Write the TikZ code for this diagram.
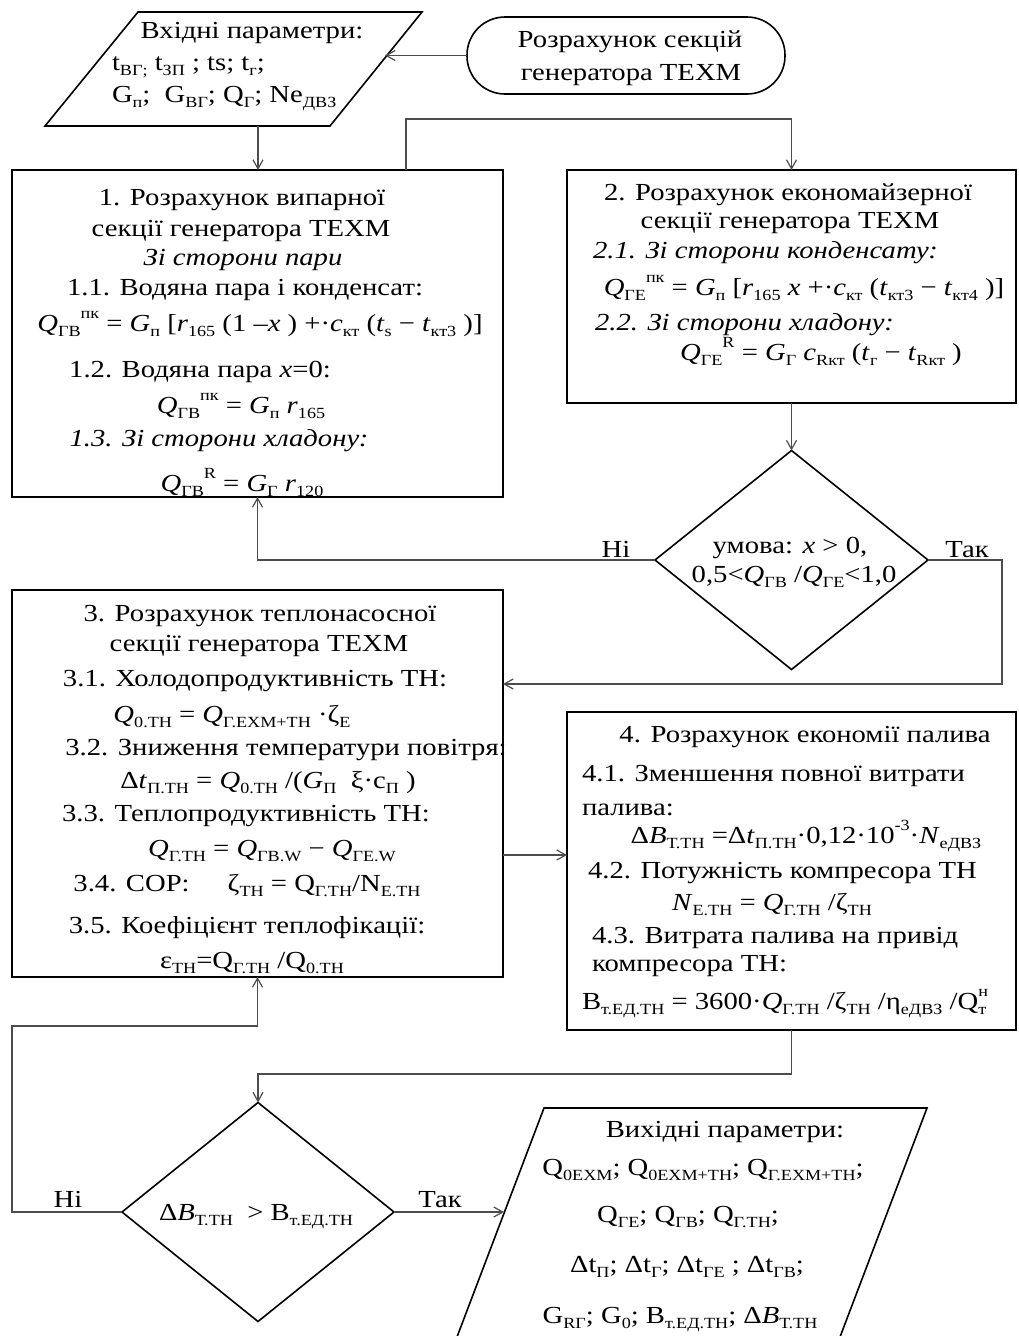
\documentclass[tikz,border=0pt]{standalone}
\usepackage{fontspec}
\setmainfont{Liberation Serif}[FakeStretch=1.17]
\usetikzlibrary{shapes.geometric,arrows.meta}
\newcommand\mysub[1]{\raisebox{-0.22em}{\fontsize{15.5}{16}\selectfont #1}}
\newcommand\mysup[1]{\raisebox{0.5em}{\fontsize{15.5}{16}\selectfont #1}}
\begin{document}
\begin{tikzpicture}[x=1pt,y=-1pt,font=\fontsize{24.5}{30}\selectfont,
  box/.style={draw=black,line width=1.6pt,rectangle,inner sep=0pt,outer sep=0pt},
  dia/.style={draw=black,line width=1.6pt,diamond,inner sep=0pt,outer sep=0pt},
  term/.style={draw=black,line width=1.6pt,rectangle,rounded corners=38pt,inner sep=0pt,outer sep=0pt},
  shapeline/.style={draw=black,line width=1.6pt,line join=miter},
  tx/.style={inner sep=0pt,outer sep=0pt,anchor=base},
  txw/.style={inner sep=0pt,outer sep=0pt,anchor=base west},
  conn/.style={draw=black!70,line width=1.2pt},
  arr/.style={conn,-{Straight Barb[length=9pt,width=10pt]}}]
\useasboundingbox (0,0) rectangle (1018,1336);
\clip (0,0) rectangle (1018,1336);
\fill[white] (0,0) rectangle (1018,1336);

% ---------- shapes ----------
\node[term,minimum width=318pt,minimum height=77pt] (st) at (626,55.5) {};
\coordinate (inTL) at (138,12);
\coordinate (inTR) at (422,12);
\coordinate (inBR) at (330,126);
\coordinate (inBL) at (45,126);
\draw[shapeline] (inTL) -- (inTR) -- (inBR) -- (inBL) -- cycle;
\coordinate (inR) at (385,55.5);
\coordinate (inB) at (258,126);

\node[box,minimum width=491pt,minimum height=327pt] (b1) at (257.5,333.5) {};
\node[box,minimum width=449pt,minimum height=233pt] (b2) at (791.5,286.5) {};
\node[dia,minimum width=273pt,minimum height=219pt] (d1) at (791.5,560) {};
\node[box,minimum width=491pt,minimum height=387pt] (b3) at (257.5,783.5) {};
\node[box,minimum width=449pt,minimum height=318pt] (b4) at (791.5,871) {};
\node[dia,minimum width=272pt,minimum height=219pt] (d2) at (258,1212) {};

\coordinate (outTL) at (544,1108);
\coordinate (outTR) at (927,1108);
\coordinate (outBR) at (813,1408);
\coordinate (outBL) at (430,1408);
\draw[shapeline] (outTL) -- (outTR) -- (outBR) -- (outBL) -- cycle;
\coordinate (outL) at (504,1212);

% ---------- connectors ----------
\draw[arr] (st.west) -- (inR);
\draw[arr] (inB) -- (inB |- b1.north);
\coordinate (j1) at (406,119);
\draw[arr] (b1.north -| j1) -- (j1) -- (j1 -| b2.north) -- (b2.north);
\draw[arr] (b2.south) -- (d1.north);
\draw[arr] (d1.west) -- (d1.west -| b1.south) -- (b1.south);
\coordinate (k1) at (1002,684);
\draw[arr] (d1.east) -- (d1.east -| k1) -- (k1) -- (k1 -| b3.east);
\coordinate (k2) at (0,855);
\draw[arr] (b3.east |- k2) -- (b4.west |- k2);
\coordinate (k3) at (0,1074);
\draw[arr] (b4.south) -- (b4.south |- k3) -- (d2.north |- k3) -- (d2.north);
\coordinate (k4) at (12,1026);
\draw[arr] (d2.west) -- (d2.west -| k4) -- (k4) -- (k4 -| b3.south) -- (b3.south);
\draw[arr] (d2.east) -- (outL);

% ---------- labels ----------
\node[tx] (l1) at (616,557) {Ні};
\node[tx] (l2) at (967,557) {Так};
\node[tx] (l3) at (68,1207) {Ні};
\node[tx] (l4) at (440,1207) {Так};

% ---------- start ----------
\node[tx] (st1) at (630,47) {Розрахунок секцій};
\node[tx] (st2) at (631,80) {генератора ТЕХМ};

% ---------- input ----------
\node[tx] (in1) at (252,38) {Вхідні параметри:};
\node[txw] (in2) at (112,70) {t\mysub{ВГ;} t\mysub{ЗП} ; ts; t\mysub{г};};
\node[txw] (in3) at (112,102) {G\mysub{п};~ G\mysub{ВГ}; Q\mysub{Г}; Ne\mysub{ДВЗ}};

% ---------- box 1 ----------
\node[tx] (a1) at (242,205) {1. Розрахунок випарної};
\node[tx] (a2) at (241,236) {секції генератора ТЕХМ};
\node[tx] (a3) at (243,265) {\textit{Зі сторони пари}};
\node[tx] (a4) at (245,295) {1.1. Водяна пара і конденсат:};
\node[tx] (a5) at (260,331) {\textit{Q}\mysub{ГВ}\mysup{пк} = \textit{G}\mysub{п} [\textit{r}\mysub{165} (1 –\textit{x} ) +·\textit{c}\mysub{кт} (\textit{t}\mysub{s} − \textit{t}\mysub{кт3} )]};
\node[tx] (a6) at (200,377) {1.2. Водяна пара \textit{x}=0:};
\node[tx] (a7) at (241,413) {\textit{Q}\mysub{ГВ}\mysup{пк} = \textit{G}\mysub{п} \textit{r}\mysub{165}};
\node[tx] (a8) at (219,446) {\textit{1.3. Зі сторони хладону:}};
\node[tx] (a9) at (242,491) {\textit{Q}\mysub{ГВ}\mysup{R} = \textit{G}\mysub{Г} \textit{r}\mysub{120}};

% ---------- box 2 ----------
\node[tx] (c1) at (788,200) {2. Розрахунок економайзерної};
\node[tx] (c2) at (790,228) {секції генератора ТЕХМ};
\node[txw] (c3) at (593,258) {\textit{2.1. Зі сторони конденсату:}};
\node[tx] (c4) at (804,295) {\textit{Q}\mysub{ГЕ}\mysup{пк} = \textit{G}\mysub{п} [\textit{r}\mysub{165} \textit{x} +·\textit{c}\mysub{кт} (\textit{t}\mysub{кт3} − \textit{t}\mysub{кт4} )]};
\node[txw] (c5) at (595,330) {\textit{2.2. Зі сторони хладону:}};
\node[tx] (c6) at (821,360) {\textit{Q}\mysub{ГЕ}\mysup{R} = \textit{G}\mysub{Г} \textit{c}\mysub{Rкт} (\textit{t}\mysub{г} − \textit{t}\mysub{Rкт} )};

% ---------- diamond 1 ----------
\node[tx] (e1) at (790,553) {умова: \textit{x} > 0,};
\node[tx] (e2) at (794,582) {0,5<\textit{Q}\mysub{ГВ} /\textit{Q}\mysub{ГЕ}<1,0};

% ---------- box 3 ----------
\node[tx] (f1) at (260,621) {3. Розрахунок теплонасосної};
\node[tx] (f2) at (259,651) {секції генератора ТЕХМ};
\node[tx] (f3) at (255,686) {3.1. Холодопродуктивність ТН:};
\node[tx] (f4) at (232,722) {\textit{Q}\mysub{0.ТН} = \textit{Q}\mysub{Г.ЕХМ+ТН} ·ζ\mysub{Е}};
\node[tx] (f5) at (286,755) {3.2. Зниження температури повітря:};
\node[tx] (f6) at (268,788) {Δ\textit{t}\mysub{П.ТН} = \textit{Q}\mysub{0.ТН} /(\textit{G}\mysub{П}~~ξ·c\mysub{П} )};
\node[tx] (f7) at (246,821) {3.3. Теплопродуктивність ТН:};
\node[tx] (f8) at (272,856) {\textit{Q}\mysub{Г.ТН} = \textit{Q}\mysub{ГВ.W} − \textit{Q}\mysub{ГЕ.W}};
\node[tx] (f9) at (247,891) {3.4. COP:\hspace{38pt}ζ\mysub{ТН} = Q\mysub{Г.ТН}/N\mysub{Е.ТН}};
\node[tx] (f10) at (247,933) {3.5. Коефіцієнт теплофікації:};
\node[tx] (f11) at (252,968) {ε\mysub{ТН}=Q\mysub{Г.ТН} /Q\mysub{0.ТН}};

% ---------- box 4 ----------
\node[tx] (g1) at (805,742) {4. Розрахунок економії палива};
\node[txw] (g2) at (582,781) {4.1. Зменшення повної витрати};
\node[txw] (g3) at (582,815) {палива:};
\node[tx] (g4) at (806,843) {Δ\textit{B}\mysub{Т.ТН} =Δ\textit{t}\mysub{П.ТН}·0,12·10\mysup{-3}·\textit{N}\mysub{еДВЗ}};
\node[txw] (g5) at (588,878) {4.2. Потужність компресора ТН};
\node[tx] (g6) at (772,910) {\textit{N}\mysub{Е.ТН} = \textit{Q}\mysub{Г.ТН} /ζ\mysub{ТН}};
\node[txw] (g7) at (592,943) {4.3. Витрата палива на привід};
\node[txw] (g8) at (592,971) {компресора ТН:};
\node[txw] (g9) at (582,1009) {B\mysub{т.ЕД.ТН} = 3600·\textit{Q}\mysub{Г.ТН} /ζ\mysub{ТН} /η\mysub{еДВЗ} /Q\rlap{\mysub{т}}\mysup{н}};

% ---------- diamond 2 ----------
\node[tx] (h1) at (256,1220) {Δ\textit{B}\mysub{Т.ТН}~~> B\mysub{т.ЕД.ТН}};

% ---------- output ----------
\node[tx] (o1) at (725,1137) {Вихідні параметри:};
\node[tx] (o2) at (703,1175) {Q\mysub{0ЕХМ}; Q\mysub{0ЕХМ+ТН}; Q\mysub{Г.ЕХМ+ТН};};
\node[tx] (o3) at (688,1222) {Q\mysub{ГЕ}; Q\mysub{ГВ}; Q\mysub{Г.ТН};};
\node[tx] (o4) at (687,1272) {Δt\mysub{П}; Δt\mysub{Г}; Δt\mysub{ГЕ} ; Δt\mysub{ГВ};};
\node[tx] (o5) at (680,1323) {G\mysub{RГ}; G\mysub{0}; B\mysub{т.ЕД.ТН}; Δ\textit{B}\mysub{Т.ТН}};
\end{tikzpicture}
\end{document}
